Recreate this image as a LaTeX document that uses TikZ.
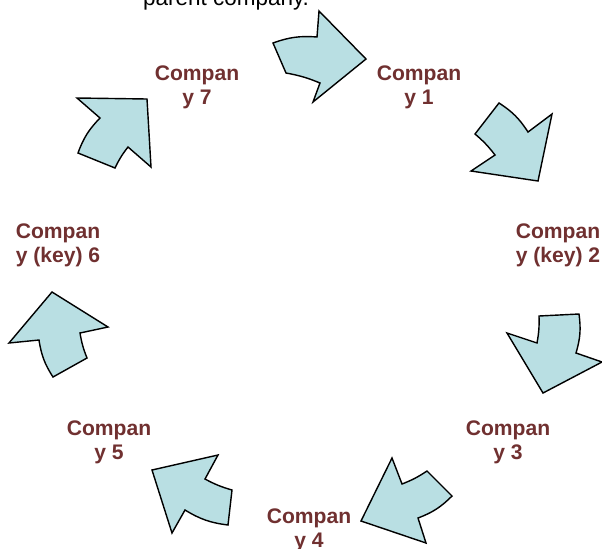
\documentclass[tikz,border=0pt]{standalone}
\usepackage{fontspec}
\setmainfont{Liberation Sans}
\definecolor{arrowfill}{RGB}{185,223,227}
\definecolor{labelred}{RGB}{112,48,48}

\begin{document}
\begin{tikzpicture}[x=0.025cm,y=-0.025cm,
  blockarrow/.style={draw=black,fill=arrowfill,line width=1pt,line join=miter},
  outer/.style={bend left=12},
  inner/.style={bend right=6},
  company/.style={text=labelred,font=\bfseries\fontsize{15}{17}\selectfont,align=center}]

\useasboundingbox (0,0) rectangle (602,548);
\clip (0,0) rectangle (602,548);

% caption of the previous box, cut off at the top
\node[font=\fontsize{16}{18}\selectfont,anchor=base] (parent) at (226,5) {parent company.};

% arrows, clockwise from the top
\draw[blockarrow] (273,43) to[outer] (317,37) -- (319,11) -- (366,59) -- (313,102) -- (320,83) to[inner] (286,73) -- cycle;
\draw[blockarrow] (499,103) to[outer] (528,132) -- (552,114) -- (538,181) -- (471,171) -- (495,155) to[inner] (475,134) -- cycle;
\draw[blockarrow] (539,316) -- (579,314) to[outer] (576,353) -- (602,362) -- (543,393) -- (507,333) -- (537,343) to[inner] (539,316) -- cycle;
\draw[blockarrow] (392,458) -- (402,484) to[inner] (427,471) -- (452,496) to[outer] (418,518) -- (426,543) -- (361,521) -- cycle;
\draw[blockarrow] (218,455) -- (205,479) to[inner] (232,490) -- (228,525) to[outer] (185,510) -- (172,533) -- (152,470) -- cycle;
\draw[blockarrow] (52,292) -- (108,327) -- (80,333) to[inner] (87,358) -- (53,377) to[outer] (39,340) -- (9,343) -- cycle;
\draw[blockarrow] (77,98) -- (147,99) -- (151,167) -- (128,147) to[inner] (115,168) -- (78,153) to[outer] (100,118) -- cycle;

% companies
\node[company] (c1) at (419,87) {Compan\\y 1};
\node[company] (c2) at (558,245) {Compan\\y (key) 2};
\node[company] (c3) at (508,442) {Compan\\y 3};
\node[company] (c4) at (309,530) {Compan\\y 4};
\node[company] (c5) at (109,442) {Compan\\y 5};
\node[company] (c6) at (58,245) {Compan\\y (key) 6};
\node[company] (c7) at (197,87) {Compan\\y 7};

\end{tikzpicture}
\end{document}
